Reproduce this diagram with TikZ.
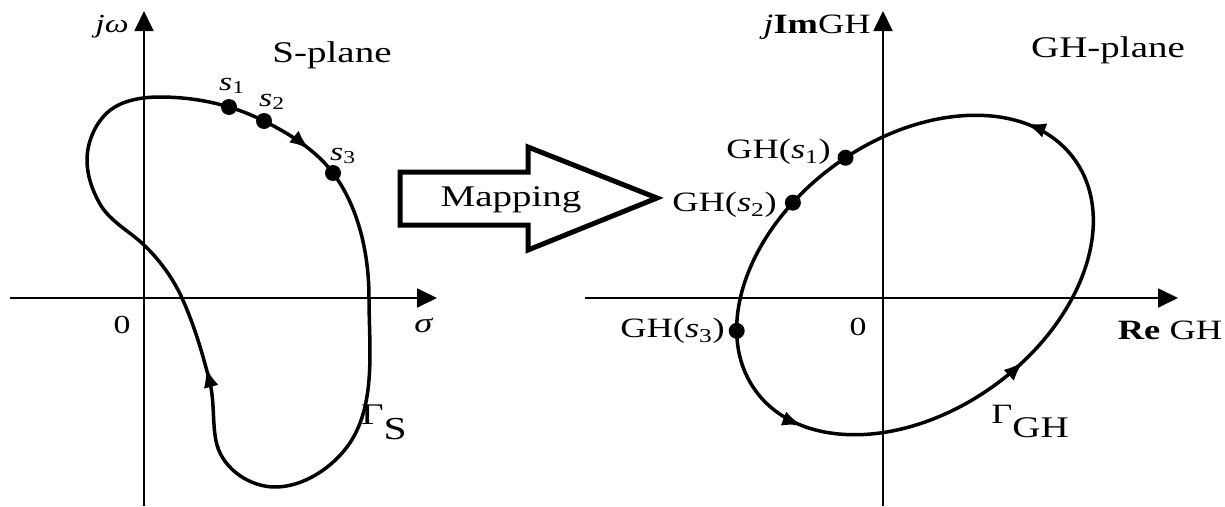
\documentclass[tikz,border=0pt]{standalone}
\usepackage{fontspec}
\setmainfont{Liberation Serif}
\usetikzlibrary{arrows.meta,decorations.markings}

\tikzset{
  axis/.style={line width=1.8pt, -{Triangle[length=20pt,width=19pt]}},
  contour/.style={line width=3.5pt},
  dot/.style={circle, fill, inner sep=0pt, minimum size=16pt},
  lbl/.style={inner sep=0pt, font=\fontsize{#1}{#1}\selectfont, xscale=1.3, transform shape},
  lbl/.default=28,
  flowmark/.style={postaction={decorate, decoration={markings, mark=at position #1 with {\arrow{Latex[length=20pt,width=15pt]}}}}},
}

\begin{document}
\begin{tikzpicture}[x=1pt, y=-1pt]
\useasboundingbox (0,0) rectangle (1225,506);

% S-plane
\coordinate (sxl) at (10,298);
\coordinate (sxr) at (437,298);
\coordinate (syb) at (144,506);
\coordinate (syt) at (144,11);
\draw[axis] (sxl) -- (sxr);
\draw[axis] (syb) -- (syt);
\coordinate (s1) at (229,107);
\coordinate (s2) at (264,121);
\coordinate (s3) at (333,173);
\draw[contour, flowmark=0.15, flowmark=0.67] (160,97) .. controls (183.2,97) and (206.8,100.3) .. (s1)
  .. controls (241.1,110.6) and (252.7,115.4) .. (s2)
  .. controls (289.7,133.9) and (315.7,150) .. (s3)
  .. controls (359,207.7) and (369,254.6) .. (369,298)
  .. controls (369,348.2) and (377,407) .. (347,447)
  .. controls (330.5,469) and (302.5,487) .. (275,487)
  .. controls (250.7,487) and (224,470) .. (217,445)
  .. controls (212,427) and (214.8,402.5) .. (210,383)
  .. controls (202.8,354.1) and (194.2,325.1) .. (182,298)
  .. controls (173.1,278.3) and (159.6,260) .. (144,245)
  .. controls (129.6,231.2) and (110,221.4) .. (100,204)
  .. controls (92.3,190.7) and (87,175.3) .. (87,160)
  .. controls (87,142.5) and (94.9,123.6) .. (108,112)
  .. controls (121.5,100.1) and (142,97) .. cycle;
\node[dot] (ds1) at (s1) {};
\node[dot] (ds2) at (s2) {};
\node[dot] (ds3) at (s3) {};
\node[lbl=26] (jw) at (112,27) {\textit{jω}};
\node[lbl=30] (splane) at (332,55) {S-plane};
\node[lbl=26] (ls1) at (232,86) {\textit{s}\textsubscript{1}};
\node[lbl=26] (ls2) at (272,102) {\textit{s}\textsubscript{2}};
\node[lbl=26] (ls3) at (343,156) {\textit{s}\textsubscript{3}};
\node[lbl=26] (so) at (122,325) {0};
\node[lbl=28] (sigma) at (424,325) {\textit{σ}};
\node[lbl=32] (gams) at (384,422) {{\fontsize{30}{30}\selectfont Γ}\raisebox{-15pt}{S}};

% mapping arrow
\draw[line width=5pt, line join=miter] (400,172) -- (528,172) -- (528,147) -- (657,198) -- (528,250) -- (528,225) -- (400,225) -- cycle;
\node[lbl=30] (map) at (511,200) {Mapping};

% GH-plane
\coordinate (gxl) at (585,298);
\coordinate (gxr) at (1178,298);
\coordinate (gyb) at (883,506);
\coordinate (gyt) at (883,11);
\draw[axis] (gxl) -- (gxr);
\draw[axis] (gyb) -- (gyt);
\begin{scope}[shift={(915,275)}, rotate=36, y=1pt]
  \coordinate (g1) at (86.3:197 and 136);
  \coordinate (g2) at (106.6:197 and 136);
  \coordinate (g3) at (154:197 and 136);
  \draw[contour, flowmark=0.058, flowmark=0.556, flowmark=0.785] (0,0) ellipse [x radius=197, y radius=136];
\end{scope}
\node[dot] (dg1) at (g1) {};
\node[dot] (dg2) at (g2) {};
\node[dot] (dg3) at (g3) {};
\node[lbl=28] (jim) at (817,27) {\textit{j}\textbf{Im}GH};
\node[lbl=30] (ghplane) at (1108,50) {GH-plane};
\node[lbl=28, anchor=east] (lg1) at (831,152) {GH(\textit{s}\textsubscript{1})};
\node[lbl=28, anchor=east] (lg2) at (777,205) {GH(\textit{s}\textsubscript{2})};
\node[lbl=28, anchor=east] (lg3) at (725,331) {GH(\textit{s}\textsubscript{3})};
\node[lbl=26] (go) at (858,327) {0};
\node[lbl=28] (regh) at (1170,330) {\textbf{Re} GH};
\node[lbl=30] (gamgh) at (1030,421) {{\fontsize{28}{28}\selectfont Γ}\raisebox{-14pt}{GH}};
\end{tikzpicture}
\end{document}
